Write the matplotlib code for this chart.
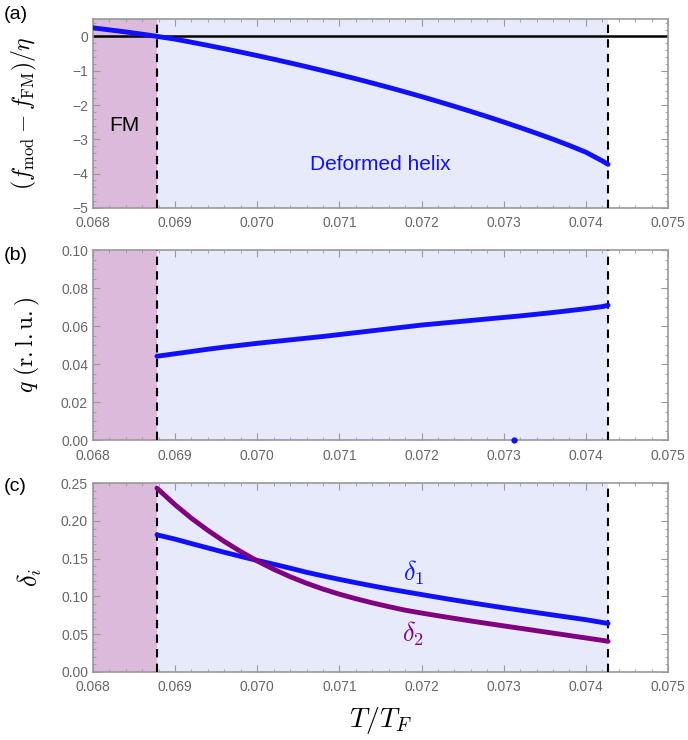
import numpy as np
import matplotlib
matplotlib.use("Agg")
import matplotlib.pyplot as plt
from matplotlib.ticker import MultipleLocator

plt.rcParams["mathtext.fontset"] = "cm"
plt.rcParams["font.family"] = ["Liberation Sans", "DejaVu Sans"]

# phase boundaries
T_fm = 0.06878
T_up = 0.07427

# free energy difference (a)
T_a = [0.0680, 0.0682, 0.0684, 0.0686, 0.06878, 0.0690, 0.0692, 0.0694, 0.0696, 0.0698,
       0.0700, 0.0702, 0.0704, 0.0706, 0.0708, 0.0710, 0.0712, 0.0714, 0.0716, 0.0718,
       0.0720, 0.0722, 0.0724, 0.0726, 0.0728, 0.0730, 0.0732, 0.0734, 0.0736, 0.0738,
       0.0740, 0.0742, 0.07427]
f_diff = [0.25, 0.19, 0.13, 0.065, 0.0, -0.080, -0.170, -0.263, -0.359, -0.458,
          -0.560, -0.665, -0.773, -0.884, -0.998, -1.115, -1.235, -1.359, -1.487, -1.619,
          -1.755, -1.895, -2.039, -2.187, -2.339, -2.496, -2.658, -2.825, -2.997, -3.180,
          -3.375, -3.630, -3.730]

# modulation wavevector (b)
T_b = [0.06878, 0.0690, 0.0692, 0.0694, 0.0696, 0.0698, 0.0700, 0.0702, 0.0704, 0.0706,
       0.0708, 0.0710, 0.0712, 0.0714, 0.0716, 0.0718, 0.0720, 0.0722, 0.0724, 0.0726,
       0.0728, 0.0730, 0.0732, 0.0734, 0.0736, 0.0738, 0.0740, 0.0742, 0.07427]
q_vals = [0.0442, 0.0455, 0.0467, 0.0479, 0.0490, 0.0500, 0.0510, 0.0519, 0.0528, 0.0537,
          0.0546, 0.0556, 0.0566, 0.0576, 0.0586, 0.0596, 0.0606, 0.0614, 0.0622, 0.0630,
          0.0638, 0.0646, 0.0654, 0.0663, 0.0672, 0.0682, 0.0692, 0.0703, 0.0710]
q_stray = (0.07313, 0.0)

# deformation parameters (c)
T_c = [0.06878, 0.0690, 0.0692, 0.0694, 0.0696, 0.0698, 0.0700, 0.0702, 0.0704, 0.0706,
       0.0708, 0.0710, 0.0712, 0.0714, 0.0716, 0.0718, 0.0720, 0.0722, 0.0724, 0.0726,
       0.0728, 0.0730, 0.0732, 0.0734, 0.0736, 0.0738, 0.0740, 0.0742, 0.07427]
delta_1 = [0.1816, 0.1759, 0.1700, 0.1642, 0.1585, 0.1530, 0.1477, 0.1427, 0.1375, 0.1320,
           0.1272, 0.1226, 0.1182, 0.1140, 0.1100, 0.1062, 0.1025, 0.0988, 0.0952, 0.0917,
           0.0883, 0.0850, 0.0818, 0.0786, 0.0754, 0.0723, 0.0692, 0.0655, 0.0642]
delta_2 = [0.2434, 0.2215, 0.2035, 0.1875, 0.1728, 0.1594, 0.1470, 0.1360, 0.1262, 0.1175,
           0.1098, 0.1030, 0.0970, 0.0915, 0.0865, 0.0818, 0.0780, 0.0744, 0.0709, 0.0675,
           0.0642, 0.0610, 0.0578, 0.0546, 0.0514, 0.0482, 0.0450, 0.0418, 0.0405]

pink = "#dcbadb"
lightblue = "#e6eafb"
blue = "#1010ff"
purple = "#800080"
gray = "#666666"

fig = plt.figure(figsize=(6.88, 7.40), dpi=100)
ax_a = fig.add_axes([0.135, 0.719, 0.836, 0.255])
ax_b = fig.add_axes([0.135, 0.405, 0.836, 0.257])
ax_c = fig.add_axes([0.135, 0.092, 0.836, 0.255])


def style_axis(ax, ylim, ymajor, yminor, yfmt):
    ax.set_xlim(0.068, 0.075)
    ax.set_ylim(*ylim)
    ax.axvspan(0.068, T_fm, color=pink, zorder=0, lw=0)
    ax.axvspan(T_fm, T_up, color=lightblue, zorder=0, lw=0)
    ax.axvline(T_fm, color="black", ls=(0, (4, 3)), lw=1.5, zorder=3)
    ax.axvline(T_up, color="black", ls=(0, (4, 3)), lw=1.5, zorder=3)
    ax.xaxis.set_major_locator(MultipleLocator(0.001))
    ax.xaxis.set_minor_locator(MultipleLocator(0.0002))
    ax.yaxis.set_major_locator(MultipleLocator(ymajor))
    ax.yaxis.set_minor_locator(MultipleLocator(yminor))
    ax.xaxis.set_major_formatter(lambda v, p: f"{v:.3f}")
    ax.yaxis.set_major_formatter(lambda v, p: yfmt(v))
    ax.tick_params(which="both", direction="in", top=True, right=True,
                   color="#999999", labelcolor=gray, labelsize=10)
    ax.tick_params(which="major", length=5)
    ax.tick_params(which="minor", length=2.5)
    ax.tick_params(axis="x", pad=6)
    for s in ax.spines.values():
        s.set_color("#999999")
        s.set_linewidth(1.2)


def fmt_int(v):
    return f"{v:.0f}".replace("-", "\u2212")


style_axis(ax_a, (-5, 0.5), 1, 0.2, fmt_int)
style_axis(ax_b, (0, 0.1), 0.02, 0.005, lambda v: f"{v:.2f}")
style_axis(ax_c, (0, 0.25), 0.05, 0.01, lambda v: f"{v:.2f}")

# (a)
ax_a.axhline(0, color="black", lw=1.8, zorder=2)
ax_a.plot(T_a, f_diff, color=blue, lw=3.5, solid_capstyle="round", zorder=4)
ax_a.text(0.06838, -2.6, "FM", fontsize=15, ha="center", va="center", color="black")
ax_a.text(0.0715, -3.72, "Deformed helix", fontsize=15, ha="center", va="center", color=blue)
ax_a.set_ylabel(r"$(f_{\rm mod}-f_{\rm FM})/\eta$", fontsize=17)
ax_a.yaxis.set_label_coords(-0.093, 0.5)

# (b)
ax_b.plot(T_b, q_vals, color=blue, lw=3.5, solid_capstyle="round", zorder=4)
ax_b.plot(*q_stray, "o", color=blue, ms=3.5, zorder=4, clip_on=False)
ax_b.set_ylabel(r"$q\ (\rm r.l.u.)$", fontsize=17)
ax_b.yaxis.set_label_coords(-0.088, 0.5)

# (c)
ax_c.plot(T_c, delta_1, color=blue, lw=3.5, solid_capstyle="round", zorder=4)
ax_c.plot(T_c, delta_2, color=purple, lw=3.5, solid_capstyle="round", zorder=4)
ax_c.text(0.07190, 0.132, r"$\delta_1$", fontsize=19, color=blue, ha="center", va="center")
ax_c.text(0.07190, 0.051, r"$\delta_2$", fontsize=19, color=purple, ha="center", va="center")
ax_c.set_ylabel(r"$\delta_i$", fontsize=19)
ax_c.yaxis.set_label_coords(-0.085, 0.5)
ax_c.set_xlabel(r"$T/T_F$", fontsize=20, labelpad=8)

for lab, y in [("(a)", 0.980), ("(b)", 0.655), ("(c)", 0.342)]:
    fig.text(0.005, y, lab, fontsize=14, ha="left", va="center")

fig.savefig("out.png", dpi=100)
